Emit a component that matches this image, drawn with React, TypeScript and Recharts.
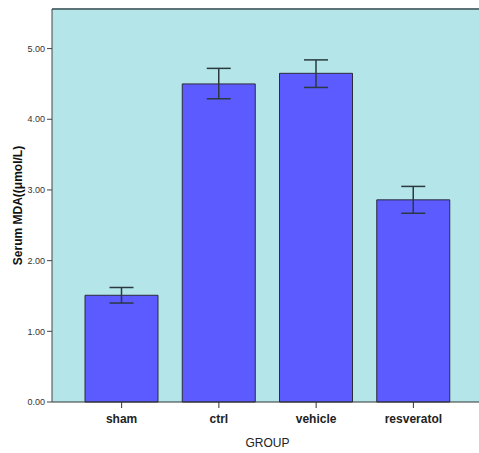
import { BarChart, Bar, XAxis, YAxis, ErrorBar, CartesianGrid, ReferenceLine, Label } from 'recharts'

const groups = ['sham', 'ctrl', 'vehicle', 'resveratol']
const meanValues = [1.51, 4.5, 4.65, 2.86]
const lowerValues = [1.4, 4.29, 4.45, 2.67]
const upperValues = [1.62, 4.72, 4.84, 3.05]
const yTicks = [0, 1, 2, 3, 4, 5]
const yMax = 5.56

const data = groups.map((group, i) => ({
  group,
  mda: meanValues[i],
  err: [meanValues[i] - lowerValues[i], upperValues[i] - meanValues[i]],
}))

export default function App() {
  return (
    <div style={{ position: 'absolute', left: 0, top: 0, width: 479, height: 453, overflow: 'hidden', background: '#fff' }}>
      <BarChart width={483} height={453} data={data} margin={{ top: 9, right: 0, bottom: 0, left: 0 }}>
        <CartesianGrid fill="#b4e5e8" stroke="none" horizontal={false} vertical={false} />
        <XAxis
          dataKey="group"
          padding={{ left: 21, right: 21 }}
          height={51}
          stroke="#333"
          tickSize={6}
          tick={{ fontSize: 12, fontWeight: 'bold', fill: '#222', fontFamily: 'Arial, Liberation Sans, sans-serif', dy: 4 }}
        >
          <Label value="GROUP" position="insideBottom" offset={6} style={{ fontSize: 12, fill: '#222', fontFamily: 'Arial, Liberation Sans, sans-serif' }} />
        </XAxis>
        <YAxis
          domain={[0, yMax]}
          ticks={yTicks}
          width={52}
          stroke="#444"
          tickSize={5}
          tickFormatter={(v: number) => v.toFixed(2)}
          tick={{ fontSize: 9, fill: '#333', fontFamily: 'Arial, Liberation Sans, sans-serif' }}
        >
          <Label
            value="Serum MDA((μmol/L)"
            angle={-90}
            position="center"
            dx={-8}
            style={{ fontSize: 12, fontWeight: 'bold', fill: '#111', fontFamily: 'Arial, Liberation Sans, sans-serif' }}
          />
        </YAxis>
        <ReferenceLine y={yMax} stroke="#5c7378" strokeWidth={2} />
        <Bar dataKey="mda" fill="#5b5bff" stroke="#2b2b3a" strokeWidth={1} barSize={73} isAnimationActive={false}>
          <ErrorBar dataKey="err" width={12} stroke="#2a3a40" strokeWidth={1.5} direction="y" isAnimationActive={false} />
        </Bar>
      </BarChart>
    </div>
  )
}
